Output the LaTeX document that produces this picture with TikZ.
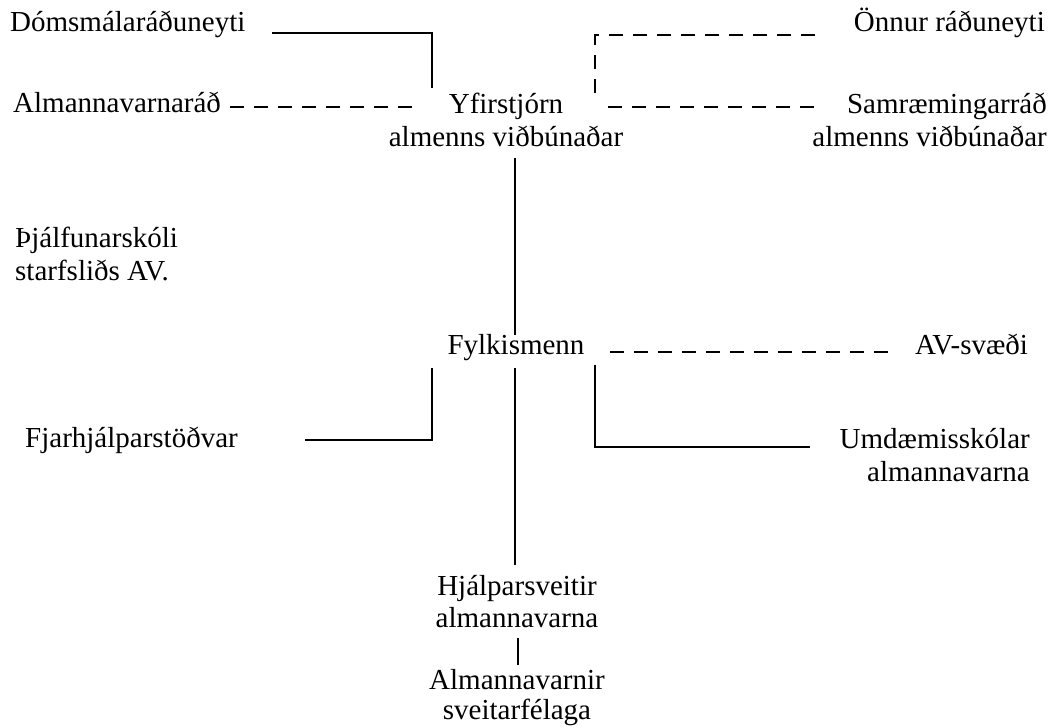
\documentclass[tikz,border=0pt]{standalone}
\usepackage{fontspec}
\setmainfont{Liberation Serif}
\begin{document}
\begin{tikzpicture}[x=1pt,y=-1pt,
  lbl/.style={inner sep=0pt, font=\fontsize{29}{33}\selectfont, align=center},
  solidline/.style={line width=1.3pt},
  dashline/.style={line width=1.3pt, dash pattern=on 14pt off 10pt}]
\useasboundingbox (0,0) rectangle (1057,726);
% nodes
\node[lbl, anchor=base west] (dom) at (10,31) {Dómsmálaráðuneyti};
\node[lbl, anchor=base west] (alm) at (13,112) {Almannavarnaráð};
\node[lbl, anchor=base, align=center] (yfir) at (506,146) {Yfirstjórn\\almenns viðbúnaðar};
\node[lbl, anchor=base east] (onn) at (1045,31) {Önnur ráðuneyti};
\node[lbl, anchor=base east, align=right] (sam) at (1047,146) {Samræmingarráð\\almenns viðbúnaðar};
\node[lbl, anchor=base west, align=left] (thj) at (15,280) {Þjálfunarskóli\\starfsliðs AV.};
\node[lbl, anchor=base] (fylk) at (516,354) {Fylkismenn};
\node[lbl, anchor=base west] (av) at (915,354) {AV-svæði};
\node[lbl, anchor=base west] (fjar) at (25,447) {Fjarhjálparstöðvar};
\node[lbl, anchor=base east, align=right] (umd) at (1030,481) {Umdæmisskólar\\almannavarna};
\node[lbl, anchor=base, font=\fontsize{29}{32}\selectfont] (hja) at (517,627) {Hjálparsveitir\\almannavarna};
\node[lbl, anchor=base, font=\fontsize{29}{30}\selectfont] (avs) at (517,719) {Almannavarnir\\sveitarfélaga};
% coordinates
\coordinate (c1) at (272,33);
\coordinate (c2) at (432,33);
\coordinate (c3) at (432,88);
\coordinate (d1) at (230,107);
\coordinate (d2) at (415,107);
\coordinate (e1) at (815,35);
\coordinate (e2) at (595,35);
\coordinate (e3) at (595,97);
\coordinate (f1) at (608,107);
\coordinate (f2) at (820,107);
\coordinate (g1) at (515,158);
\coordinate (g2) at (515,335);
\coordinate (h1) at (610,352);
\coordinate (h2) at (897,352);
\coordinate (i1) at (432,368);
\coordinate (i2) at (432,440);
\coordinate (i3) at (305,440);
\coordinate (j1) at (595,365);
\coordinate (j2) at (595,447);
\coordinate (j3) at (810,447);
\coordinate (k1) at (515,368);
\coordinate (k2) at (515,565);
\coordinate (l1) at (518,638);
\coordinate (l2) at (518,665);
% connectors
\draw[solidline] (c1) -- (c2) -- (c3);
\draw[dashline] (d1) -- (d2);
\draw[dashline] (e1) -- (e2) -- (e3);
\draw[dashline] (f1) -- (f2);
\draw[solidline] (g1) -- (g2);
\draw[dashline] (h1) -- (h2);
\draw[solidline] (i1) -- (i2) -- (i3);
\draw[solidline] (j1) -- (j2) -- (j3);
\draw[solidline] (k1) -- (k2);
\draw[solidline] (l1) -- (l2);
\end{tikzpicture}
\end{document}
